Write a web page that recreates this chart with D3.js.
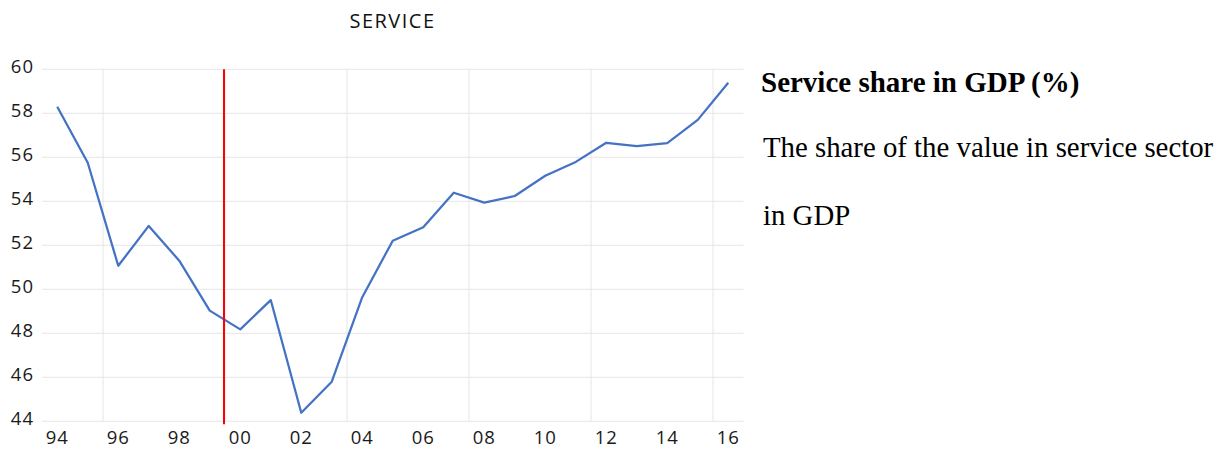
<!DOCTYPE html>
<html>
<head>
<meta charset="utf-8">
<script src="https://cdn.jsdelivr.net/npm/d3@7/dist/d3.min.js"></script>
<style>
  html, body { margin: 0; padding: 0; background: #fff; }
  svg { display: block; }
</style>
</head>
<body>
<svg id="chart" width="1229" height="452"></svg>
<script>
// Service sector share of GDP, 1994–2016 (%)
const years = ["94","95","96","97","98","99","00","01","02","03","04","05",
               "06","07","08","09","10","11","12","13","14","15","16"];
const serviceShare = [58.30, 55.75, 51.07, 52.88, 51.30, 49.03, 48.18, 49.51,
                      44.39, 45.80, 49.64, 52.21, 52.82, 54.39, 53.94, 54.24,
                      55.16, 55.79, 56.66, 56.51, 56.64, 57.70, 59.39];
const yTicks = [44, 46, 48, 50, 52, 54, 56, 58, 60];
const markerYear = "00";   // vertical reference line sits at the start of this year
const chartTitle = "SERVICE";
const noteTitle = "Service share in GDP (%)";
const noteLines = ["The share of the value in service sector", "in GDP"];

const svg = d3.select("#chart");
const plot = { left: 42, right: 743.5, top: 69.3, bottom: 421.3 };

const x = d3.scaleBand().domain(years).range([plot.left, plot.right]).paddingInner(0).paddingOuter(0);
const y = d3.scaleLinear().domain([44, 60]).range([plot.bottom, plot.top]);

const uiFont = "'Open Sans', sans-serif";

// horizontal gridlines
svg.append("g").selectAll("line").data(yTicks).join("line")
  .attr("x1", plot.left).attr("x2", plot.right)
  .attr("y1", d => y(d)).attr("y2", d => y(d))
  .attr("stroke", "#e6e6e6").attr("stroke-width", 1);

// vertical gridlines on category boundaries, every fourth year
const vGrid = years.filter((d, i) => i % 4 === 2);
svg.append("g").selectAll("line").data(vGrid).join("line")
  .attr("x1", d => x(d)).attr("x2", d => x(d))
  .attr("y1", plot.top).attr("y2", plot.bottom)
  .attr("stroke", "#e6e6e6").attr("stroke-width", 1);

// y axis labels
const yAxis = d3.axisLeft(y).tickValues(yTicks).tickSize(0).tickPadding(8);
const gy = svg.append("g").attr("transform", `translate(${plot.left},0)`).call(yAxis);
gy.select(".domain").remove();
gy.selectAll("text").attr("font-family", uiFont).attr("font-size", 18.5)
  .attr("letter-spacing", 1).attr("fill", "#1a1a1a").attr("dy", "0.18em");

// x axis labels, every other year
const xAxis = d3.axisBottom(x).tickValues(years.filter((d, i) => i % 2 === 0)).tickSize(0).tickPadding(9);
const gx = svg.append("g").attr("transform", `translate(0,${plot.bottom})`).call(xAxis);
gx.select(".domain").remove();
gx.selectAll("text").attr("font-family", uiFont).attr("font-size", 18.5)
  .attr("letter-spacing", 1).attr("fill", "#1a1a1a").attr("dy", "0.75em");

// series line
const line = d3.line()
  .x((d, i) => x(years[i]) + x.bandwidth() / 2)
  .y(d => y(d));
svg.append("path").datum(serviceShare)
  .attr("d", line)
  .attr("fill", "none")
  .attr("stroke", "#4472c4")
  .attr("stroke-width", 2.25)
  .attr("stroke-linejoin", "round");

// red reference line
svg.append("line")
  .attr("x1", x(markerYear) - 1).attr("x2", x(markerYear) - 1)
  .attr("y1", plot.top).attr("y2", plot.bottom + 3)
  .attr("stroke", "#ff0000").attr("stroke-width", 2);

// chart title
svg.append("text")
  .attr("x", 392.5).attr("y", 27.5)
  .attr("text-anchor", "middle")
  .attr("font-family", uiFont).attr("font-size", 20)
  .attr("letter-spacing", 1.5)
  .attr("fill", "#111")
  .text(chartTitle);

// side note
const note = svg.append("g").attr("font-family", "'Liberation Serif', 'Times New Roman', serif").attr("fill", "#000");
note.append("text").attr("x", 761).attr("y", 91.5)
  .attr("font-size", 29).attr("font-weight", "bold").text(noteTitle);
note.selectAll("text.line").data(noteLines).join("text").attr("class", "line")
  .attr("x", 763).attr("y", (d, i) => 157 + i * 68)
  .attr("font-size", 28.8).text(d => d);
</script>
</body>
</html>
